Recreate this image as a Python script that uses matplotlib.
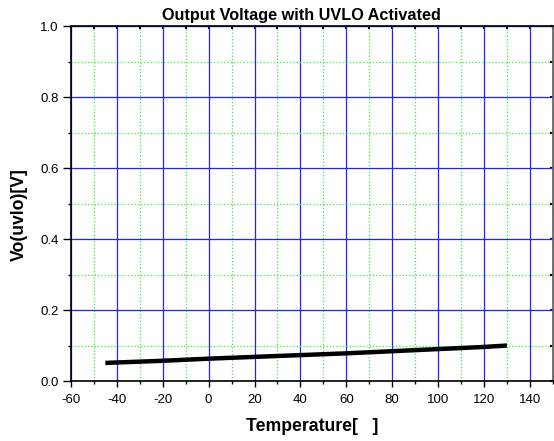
import numpy as np
import matplotlib.pyplot as plt
from matplotlib.ticker import MultipleLocator

plt.rcParams['font.family'] = ['Liberation Sans', 'DejaVu Sans']
plt.rcParams['axes.unicode_minus'] = False

temp = [-45, -20, 0, 20, 40, 60, 80, 100, 120, 130]
vo = [0.051, 0.057, 0.063, 0.068, 0.073, 0.078, 0.084, 0.090, 0.096, 0.100]

fig = plt.figure(figsize=(5.54, 4.41), dpi=100)
ax = fig.add_axes([0.128, 0.136, 0.870, 0.805])

ax.plot(temp, vo, color='black', linewidth=3.2, solid_capstyle='butt', zorder=3)

ax.set_xlim(-60, 150)
ax.set_ylim(0, 1.0)
ax.xaxis.set_major_locator(MultipleLocator(20))
ax.xaxis.set_minor_locator(MultipleLocator(10))
ax.yaxis.set_major_locator(MultipleLocator(0.2))
ax.yaxis.set_minor_locator(MultipleLocator(0.1))
ax.yaxis.set_major_formatter(plt.FuncFormatter(lambda v, p: '%.1f' % v))

ax.grid(which='major', color='#2222ff', linestyle='-', linewidth=0.9)
ax.grid(which='minor', color='#33ee33', linestyle=':', linewidth=0.9)
ax.set_axisbelow(True)

# outer ticks on left/bottom
ax.tick_params(axis='x', which='major', direction='out', length=4, width=1,
               labelsize=9.5, pad=5)
ax.tick_params(axis='y', which='major', direction='out', length=6, width=1,
               labelsize=9.5, pad=3)
ax.tick_params(which='minor', direction='out', length=2.5, width=1)

# little inner ticks on top/right
ax2 = ax.secondary_xaxis('top')
ax2.xaxis.set_major_locator(MultipleLocator(20))
ax2.xaxis.set_minor_locator(MultipleLocator(10))
ax2.tick_params(which='both', direction='in', length=2, width=1.5, labeltop=False)
ax3 = ax.secondary_yaxis('right')
ax3.yaxis.set_major_locator(MultipleLocator(0.2))
ax3.yaxis.set_minor_locator(MultipleLocator(0.1))
ax3.tick_params(which='both', direction='in', length=2, width=1.5, labelright=False)
ax3.spines['right'].set_color('#666666')
ax.spines['right'].set_color('#666666')

for s in ax.spines.values():
    s.set_linewidth(1.2)

ax.set_title('Output Voltage with UVLO Activated', fontsize=11.7, fontweight='bold',
             x=0.479, pad=4)
ax.set_xlabel('Temperature[   ]', fontsize=12.7, fontweight='bold')
ax.set_ylabel('Vo(uvlo)[V]', fontsize=12.7, fontweight='bold')
ax.xaxis.set_label_coords(0.501, -0.105)
ax.yaxis.set_label_coords(-0.089, 0.468)

fig.savefig('out.png', dpi=100)
